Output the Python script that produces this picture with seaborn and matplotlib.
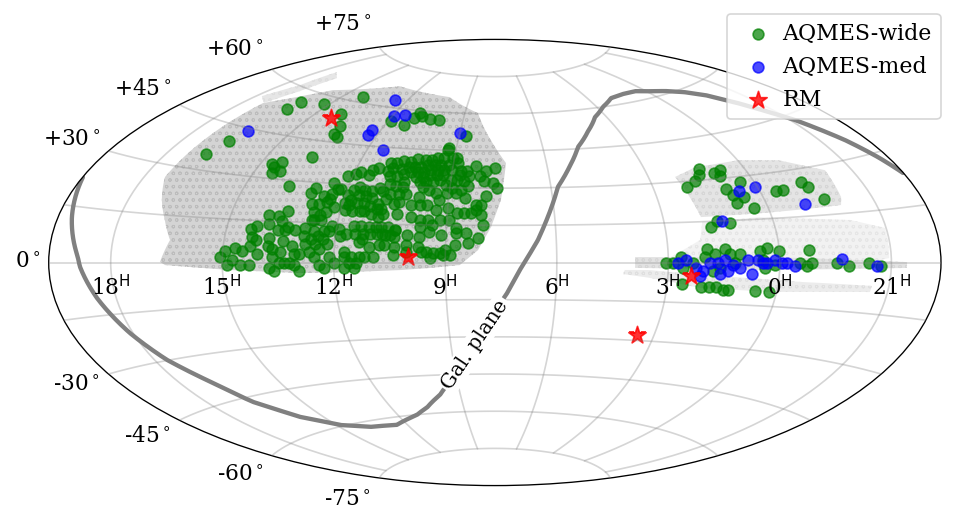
import numpy as np
import matplotlib
matplotlib.use('Agg')
import matplotlib.pyplot as plt
from matplotlib.ticker import FixedLocator, FixedFormatter, NullFormatter
import seaborn as sns

sns.set_style('whitegrid', {'axes.edgecolor': 'black', 'axes.axisbelow': False, 'text.color': 'black', 'ytick.color': 'black'})
plt.rcParams['font.family'] = 'DejaVu Serif'
plt.rcParams['hatch.linewidth'] = 0.5

ra_center = 115

# (ra, dec) in degrees
wide = [(253,35),(249,40),(243,53),(242,56),(228,57),(212,62),(211,55),(204,51),(203,48),(200,47),(178,55),(169,54),(166,57),(164,59),(162,58),(156,57),(150,57),
(131,51),(139,45),(204,39),(216,36),(220,35),(218,34),(214,33),(217,32),(206,28),(226,2),(224,4),(221,1),(220,5),(217,4),(218,-1),(214,-1),(223,-1),(214,6),
(214,9),(215,12),(213,13),(212,8),(211,3),(209,17),(208,14),(207,9),(207,6),(205,5),(202,4),(205,2),(202,0),(206,-2),(204,-3),(200,0),(197,6),(196,3),(194,3),
(198,0),(194,-3),(196,-1),(205,17),(202,19),(203,15),(204,12),(201,8),(200,13),(197,12),(201,12),(193,13),(193,10),(190,9),(192,7),(189,12),(187,10),(188,7),
(185,9),(186,5),(183,7),(190,4),(188,2),(186,-1),(184,-2),(182,2),(180,0),(185,12),(183,12),(182,14),(191,19),(188,18),(191,16),(190,16),(187,16),(186,19),
(183,21),(186,24),(189,25),(194,28),(195,26),(193,22),(190,22),(187,23),(186,26),(187,30),(184,28),(139,46),(165,39),(162,39),(159,40),(156,40),(153,41),
(149,41),(146,41),(143,42),(140,42),(136,42),(134,42),(170,37),(172,36),(177,35),(173,34),(179,34),(182,33),(165,36),(163,34),(163,37),(159,37),(156,38),
(153,38),(150,38),(147,39),(144,39),(141,39),(137,39),(133,40),(131,37),(128,37),(124,39),(119,37),(115,38),(160,34),(157,35),(154,36),(151,36),(148,36),
(145,37),(142,37),(139,37),(135,37),(131,35),(127,35),(122,35),(120,33),(116,32),(114,30),(119,27),(121,23),(123,23),(121,19),(120,15),(122,10),(126,8),
(131,7),(156,32),(151,34),(148,34),(145,35),(142,35),(139,35),(135,33),(132,33),(129,33),(127,31),(162,31),(159,30),(156,30),(149,32),(146,32),(143,32),
(140,33),(137,31),(134,30),(130,29),(164,28),(161,27),(157,27),(154,27),(147,30),(144,29),(141,28),(139,25),(136,28),(132,28),(128,26),(162,25),(158,23),
(156,24),(151,23),(148,26),(147,23),(144,23),(140,21),(135,22),(131,20),(128,20),(125,20),(123,21),(156,19),(150,18),(146,17),(143,17),(146,14),(141,15),
(142,12),(138,17),(134,17),(131,14),(131,12),(127,12),(146,10),(137,11),(151,11),(156,13),(156,10),(160,11),(183,28),(179,26),(177,28),(175,29),(172,28),
(169,28),(166,29),(179,23),(177,24),(174,26),(171,26),(168,25),(165,23),(177,22),(174,23),(171,23),(168,22),(165,21),(163,21),(178,20),(175,20),(172,20),
(170,20),(167,19),(164,18),(162,19),(173,14),(170,14),(167,14),(164,14),(162,14),(159,14),(156,13),(179,13),(176,11),(172,11),(169,11),(166,11),(163,11),
(161,11),(158,11),(178,10),(170,8),(169,9),(166,6),(162,7),(160,7),(156,6),(156,3),(176,4),(173,2),(170,2),(168,2),(164,2),(176,2),(174,0),(172,-2),(176,-2),
(171,0),(151,7),(146,6),(145,4),(143,4),(140,4),(137,4),(135,5),(151,4),(141,2),(136,3),(133,3),(30,28),(25,30),(20,34),(22,32),(15,32),(11,33),(13,31),(14,26),
(12,24),(6,28),(8,23),(12,21),(6,19),(353,24),(350,24),(340,26),(339,24),(335,20),(23,15),(18,14),(26,13),(46,0),(43,0),(40,2),(39,-2),(29,5),(30,2),(26,3),(22,5),
(20,3),(16,3),(18,0),(8,4),(5,5),(360,4),(7,1),(2,-1),(6,-2),(27,-3),(31,-9),(28,-9),(25,-9),(22,-10),(20,-10),(9,-10),(3,-10),(348,4),(352,0),(349,-1),(347,0),
(337,0),(332,-1),(324,0),(319,-1),(39,-8),(35,0),(24,-2)]
med = [(246,44),(189,63),(179,57),(173,58),(185,51),(185,49),(172,44),(135,52),(9,25),(1,26),(344,19),(21,15),(41,0),(38,1),(34,-2),(31,-3),(32,-5),(28,0),(25,0),
(22,1),(19,-1),(24,-4),(21,-3),(16,-2),(13,1),(11,-4),(9,1),(7,0),(5,0),(2,1),(359,0),(357,0),(354,-1),(335,1),(321,-1)]
rm = [(213.6,53.2),(150.1,2.2),(35.7,-5.0),(52.4,-27.9)]
gal_plane = [(294.9,22.5),(289.4,12.1),(283.3,1.5),(282.4,-1.2),(277.8,-10.0),(271.3,-20.7),(264.8,-29.8),(255.7,-38.8),(249.0,-46.7),(237.5,-54.2),(222.9,-59.5),(206.6,-62.1),(187.3,-62.9),(167.8,-60.1),(158,-57.5),(146.8,-52.9),(137,-46.5),(131,-40),(125.0,-33.2),(118,-24),(110.4,-13.1),(104.9,-3.0),(97.5,9.0),(86.9,30.2),(79.5,38),(71.7,45.7),(62,51.5),(52.0,56.6),(41,60),(29.0,62.6),(18,63.2),(6.7,63.2),(349.1,60.9),(340,59),(332.6,56.5),(324.7,51.7),(312.9,43.2),(304.3,34.9),(299.1,28.8),(295.2,23.7)]

# footprint outlines of the faint background sample
foot_main = [(256.2,19.5),(261.3,26.4),(260.8,37.7),(260.1,52.7),(237.4,61.8),(198.2,67.9),(150.7,66.1),(126.3,60.2),(114.9,46.6),(109.6,40.1),(112.4,25.2),(116.6,14.3),(121.8,5.0),(129.1,-1.0),(141.2,-2.2),(153.3,-3.0),(173.5,-3.7),(193.8,-3.9),(222.0,-2.6),(248.1,-0.8),(250.1,0.2),(246.9,7.2),(251.2,13.4)]
foot_strip = [(267.3,54.2),(261.1,60.1),(260.2,66.5),(250.8,65.2),(254.1,58.7),(259.7,52.8)]
foot_r1 = [(33.1,31.9),(21.4,34.8),(359.7,35.4),(342.2,33.5),(326.2,28.3),(327.7,19.9),(329.5,17.6),(3.9,17.0),(29.2,16.7),(31.6,26.9)]
foot_r2 = [(29.3,14.9),(4.9,15.7),(328.5,12.9),(315.5,9.9),(315.9,1.3),(323.6,0.1),(46.4,0.9),(31.6,8.3)]
foot_r3 = [(58.4,2.1),(4.0,1.9),(308.7,0.1),(308.7,-1.5),(3.9,-2.6),(58.4,-2.1)]
foot_r4 = [(63.2,-4.5),(52.2,-5.9),(31.4,-9.4),(2.7,-10.1),(322.1,-8.7),(321.9,-6.9),(351.3,-6.4),(32.1,-4.6),(52.4,-2.9),(62.5,-2.9)]

ra_ticks = [270, 225, 180, 135, 90, 45, 0, 315]
ra_labels = ['18', '15', '12', '9', '6', '3', '0', '21']
dec_ticks = [-75, -60, -45, -30, -15, 0, 15, 30, 45, 60, 75]
dec_labels = ['-75', '-60', '-45', '-30', '', '0', '', '+30', '+45', '+60', '+75']


def lon_of(ra):
    # RA grows to the left, wrapped around ra_center
    return -np.radians((np.asarray(ra, dtype=float) - ra_center + 180) % 360 - 180)


def to_xy(pts):
    pts = np.array(pts, dtype=float)
    return lon_of(pts[:, 0]), np.radians(pts[:, 1])


w, h = 956, 525
fig = plt.figure(figsize=(w / 120, h / 120), dpi=120)
ax = fig.add_axes([48.7 / w, 39.3 / h, 892.3 / w, 446.4 / h], projection='aitoff')

for foot, col, hcol in [(foot_main, '#d4d4d4', '#bcbcbc'), (foot_strip, '#e6e6e6', '#dddddd'), (foot_r1, '#e4e4e4', '#d6d6d6'),
                        (foot_r2, '#f2f2f2', '#e6e6e6'), (foot_r3, '#e2e2e2', '#d6d6d6'), (foot_r4, '#ececec', '#dfdfdf')]:
    x, y = to_xy(foot)
    ax.fill(x, y, facecolor=col, edgecolor=hcol, hatch='ooo', lw=0, zorder=0.5)

x, y = to_xy(gal_plane)
sns.lineplot(x=x, y=y, sort=False, estimator=None, color='gray', lw=2.6, ax=ax, zorder=2)

x, y = to_xy(wide)
sns.scatterplot(x=x, y=y, color='g', alpha=0.7, s=42, edgecolor='face', linewidth=1, label='AQMES-wide', ax=ax)
x, y = to_xy(med)
sns.scatterplot(x=x, y=y, color='b', alpha=0.7, s=42, edgecolor='face', linewidth=1, label='AQMES-med', ax=ax)
x, y = to_xy(rm)
sns.scatterplot(x=x, y=y, color='r', alpha=0.8, marker='*', s=120, edgecolor='face', linewidth=1, label='RM', ax=ax)

ax.xaxis.set_major_locator(FixedLocator(lon_of(ra_ticks)))
ax.xaxis.set_major_formatter(NullFormatter())
ax.yaxis.set_major_locator(FixedLocator(np.radians(dec_ticks)))
ax.yaxis.set_major_formatter(FixedFormatter([s + r'$^\circ$' if s else '' for s in dec_labels]))
ax.tick_params(axis='y', labelsize=13, labelcolor='black')
ax.grid(True, color='gray', alpha=0.33, lw=1)
ax.set_xlabel('')
ax.set_ylabel('')

for ra, lab in zip(ra_ticks, ra_labels):
    ax.annotate(lab + r'$^{\rm H}$', xy=(lon_of(ra), 0), xytext=(0, -15.3), textcoords='offset points',
                ha='center', va='center', fontsize=13, color='black')

ax.text(lon_of(124), np.radians(-33), 'Gal. plane', rotation=56, rotation_mode='anchor', ha='center', va='center',
        fontsize=12, color='black', zorder=3, bbox=dict(facecolor='white', edgecolor='none', pad=1.5))

ax.legend(loc='upper right', bbox_to_anchor=(940.5 / w, 1 - 14 / h), bbox_transform=fig.transFigure, borderaxespad=0,
          frameon=True, fontsize=13.3, scatterpoints=1, labelspacing=0.49, handletextpad=0.1)

fig.savefig('out.png', dpi=120)
